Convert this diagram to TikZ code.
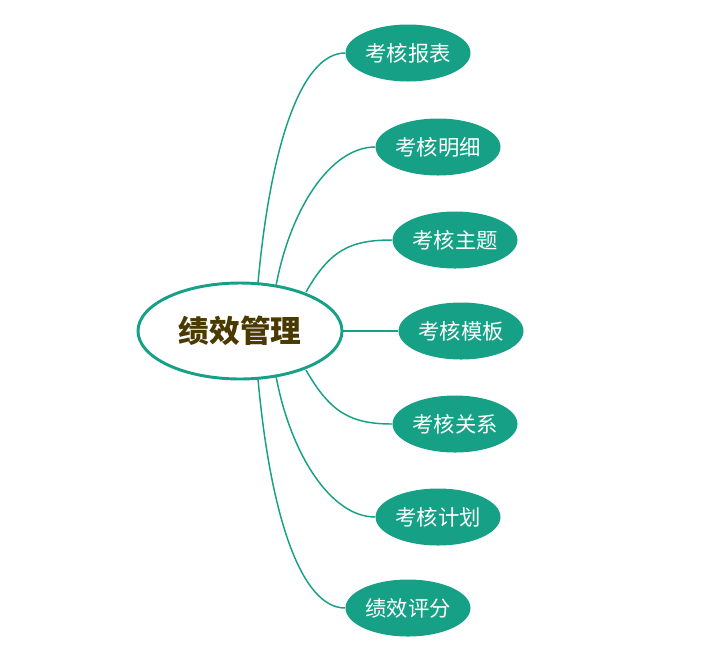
\documentclass[tikz,border=0pt]{standalone}
\usepackage{fontspec}
\newfontfamily\cjk{Noto Sans CJK SC}
\definecolor{grn}{HTML}{16A085}
\definecolor{olive}{HTML}{4A3A00}
\begin{document}
\begin{tikzpicture}[x=0.75pt,y=-0.75pt,
  leaf/.style={ellipse,fill=grn,text=white,minimum width=125*0.75pt,minimum height=57*0.75pt,inner sep=0pt,font=\cjk\fontsize{16}{18}\selectfont},
  root/.style={ellipse,draw=grn,line width=2.2pt,fill=white,text=olive,minimum width=204*0.75pt,minimum height=96*0.75pt,inner sep=0pt,font=\cjk\bfseries\fontsize{23}{26}\selectfont},
  link/.style={draw=grn,line width=1.1pt}]
\usetikzlibrary{shapes.geometric}
\useasboundingbox (0,0) rectangle (720,654);
\node[leaf] (a) at (408,53) {考核报表};
\node[leaf] (b) at (438,147) {考核明细};
\node[leaf] (c) at (455,240) {考核主题};
\node[leaf] (d) at (461,331) {考核模板};
\node[leaf] (e) at (455,424) {考核关系};
\node[leaf] (f) at (438,517) {考核计划};
\node[leaf] (g) at (408,608) {绩效评分};
\coordinate (sa) at (258,283);
\coordinate (sb) at (276,286);
\coordinate (sc) at (306,292);
\coordinate (sd) at (343,331);
\coordinate (se) at (306,370);
\coordinate (sf) at (276,376);
\coordinate (sg) at (258,379);
\draw[link] (sa) .. controls (270,150) and (300,53) .. (a.west);
\draw[link] (sb) .. controls (290,210) and (330,147) .. (b.west);
\draw[link] (sc) .. controls (330,250) and (350,240) .. (c.west);
\draw[link] (sd) -- (d.west);
\draw[link] (se) .. controls (330,412) and (350,424) .. (e.west);
\draw[link] (sf) .. controls (290,452) and (330,517) .. (f.west);
\draw[link] (sg) .. controls (270,512) and (300,608) .. (g.west);
\node[root] (r) at (240,331) {绩效管理};
\end{tikzpicture}
\end{document}
